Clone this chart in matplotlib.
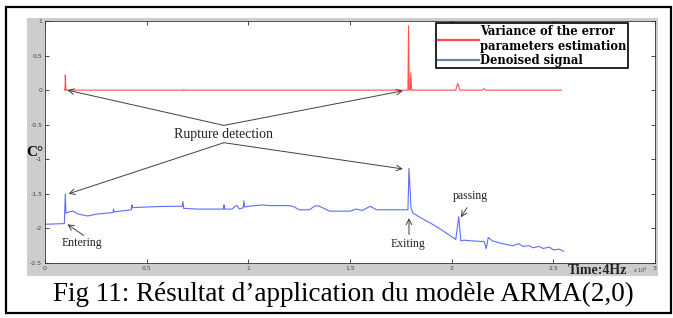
import matplotlib.pyplot as plt
from matplotlib.patches import Rectangle
from matplotlib.lines import Line2D

# variance of the error parameters estimation (x in units of 1e4 samples)
red_x = [0.095, 0.098, 0.100, 0.103, 0.106, 0.68, 0.683, 0.686, 1.785, 1.788, 1.791,
         1.796, 1.799, 1.803, 1.806, 2.02, 2.03, 2.04, 2.15, 2.16, 2.17, 2.54]
red_y = [0.0, 0.0, 0.22, 0.0, 0.0, 0.0, 0.01, 0.0, 0.0, 0.93, 0.0,
         0.0, 0.25, 0.0, 0.0, 0.0, 0.10, 0.0, 0.0, 0.02, 0.0, 0.0]

# denoised signal
blue_x = [0.0, 0.095, 0.100, 0.103, 0.12, 0.14, 0.16, 0.21, 0.26, 0.30,
          0.335, 0.337, 0.34, 0.40, 0.425, 0.428, 0.43, 0.50, 0.60, 0.675,
          0.678, 0.682, 0.75, 0.85, 0.878, 0.880, 0.883, 0.92, 0.935, 0.945,
          0.955, 0.975, 0.978, 0.982, 1.00, 1.07, 1.10, 1.20, 1.22, 1.25,
          1.30, 1.33, 1.35, 1.40, 1.50, 1.53, 1.56, 1.60, 1.63, 1.70,
          1.785, 1.790, 1.80, 1.81, 1.85, 1.90, 1.95, 2.02, 2.035, 2.045,
          2.06, 2.10, 2.16, 2.17, 2.18, 2.20, 2.25, 2.30, 2.33, 2.35,
          2.38, 2.40, 2.43, 2.45, 2.48, 2.50, 2.53, 2.55]
blue_y = [-1.94, -1.93, -1.50, -1.78, -1.76, -1.75, -1.79, -1.82, -1.79, -1.78,
          -1.77, -1.72, -1.76, -1.74, -1.73, -1.66, -1.70, -1.69, -1.68, -1.68,
          -1.61, -1.71, -1.72, -1.72, -1.72, -1.66, -1.72, -1.72, -1.68, -1.67,
          -1.72, -1.70, -1.60, -1.69, -1.68, -1.66, -1.67, -1.67, -1.68, -1.73,
          -1.73, -1.67, -1.68, -1.75, -1.75, -1.72, -1.74, -1.68, -1.73, -1.73,
          -1.73, -1.13, -1.70, -1.78, -1.85, -1.93, -2.02, -2.16, -1.83, -2.18,
          -2.17, -2.18, -2.19, -2.29, -2.13, -2.18, -2.22, -2.25, -2.22, -2.26,
          -2.25, -2.28, -2.26, -2.29, -2.27, -2.31, -2.30, -2.33]

xticks = [0, 0.5, 1, 1.5, 2, 2.5, 3]
xticklabels = ['0', '0.5', '1', '1.5', '2', '2.5', '3']
yticks = [-2.5, -2, -1.5, -1, -0.5, 0, 0.5, 1]
yticklabels = ['-2.5', '-2', '-1.5', '-1', '-0.5', '0', '0.5', '1']
legend_labels = ['Variance of the error\nparameters estimation', 'Denoised signal']

serif = 'Liberation Serif'

fig = plt.figure(figsize=(6.73, 3.18), dpi=100)
fig.patch.set_facecolor('white')

# grey matlab figure panel and outer frame
fig.patches.append(Rectangle((27 / 673, 42 / 318), 631 / 673, 258 / 318,
                             transform=fig.transFigure, facecolor='#cdcdcd',
                             edgecolor='none', zorder=-10))
fig.patches.append(Rectangle((6 / 673, 5 / 318), 665 / 673, 306 / 318,
                             transform=fig.transFigure, facecolor='none',
                             edgecolor='black', lw=1.6, zorder=10))

ax = fig.add_axes([45 / 673, 55 / 318, 610 / 673, 242 / 318])
ax.set_facecolor('white')

ax.plot(red_x, red_y, color='#ff5050', lw=0.8)
ax.plot(blue_x, blue_y, color='#5f6cff', lw=0.8)

ax.set_xlim(0, 3)
ax.set_ylim(-2.5, 1)
ax.set_xticks(xticks)
ax.set_xticklabels(xticklabels)
ax.set_yticks(yticks)
ax.set_yticklabels(yticklabels)
ax.tick_params(direction='in', length=3, width=0.5, labelsize=4.5, labelcolor='#444444',
               top=True, right=True, pad=2)
for s in ax.spines.values():
    s.set_linewidth(0.6)
    s.set_color('#333333')

handles = [Line2D([], [], color='#ff4848', lw=1.6), Line2D([], [], color='#6a86a8', lw=1.6)]
leg = ax.legend(handles, legend_labels, loc='upper left', bbox_to_anchor=(0.641, 0.99),
                fancybox=False, edgecolor='black', framealpha=1, borderpad=0.15,
                handlelength=3.6, handletextpad=0.05, labelspacing=0.05, borderaxespad=0,
                prop={'family': 'DejaVu Serif', 'weight': 'bold', 'size': 8.3})
leg.get_frame().set_linewidth(1.2)

arrow = dict(arrowstyle='->', color='#404040', lw=0.7, shrinkA=0, shrinkB=0)
ax.text(0.88, -0.635, 'Rupture detection', family=serif, fontsize=10,
        ha='center', va='center', color='#222222')
for tx, ty in [(0.11, 0.0), (1.76, -0.01)]:
    ax.annotate('', xy=(tx, ty), xytext=(0.88, -0.51), arrowprops=arrow)
for tx, ty in [(0.115, -1.5), (1.76, -1.14)]:
    ax.annotate('', xy=(tx, ty), xytext=(0.88, -0.76), arrowprops=arrow)

ax.annotate('', xy=(0.11, -1.94), xytext=(0.19, -2.1), arrowprops=arrow)
ax.text(0.18, -2.21, 'Entering', family=serif, fontsize=8.5, ha='center', va='center',
        color='#222222')
ax.annotate('', xy=(1.79, -1.85), xytext=(1.79, -2.09), arrowprops=arrow)
ax.text(1.785, -2.22, 'Exiting', family=serif, fontsize=8.5, ha='center', va='center',
        color='#222222')
ax.annotate('', xy=(2.045, -1.84), xytext=(2.075, -1.7), arrowprops=arrow)
ax.text(2.09, -1.53, 'passing', family=serif, fontsize=8.5, ha='center', va='center',
        color='#222222')

fig.text(35 / 673, 1 - 152 / 318, 'C°', family=serif, weight='bold', fontsize=11,
         ha='center', va='center')
fig.text(597 / 673, 1 - 270 / 318, 'Time:4Hz', family=serif, weight='bold', fontsize=10,
         ha='center', va='center', color='#222222')
fig.text(640 / 673, 1 - 270 / 318, r'x 10$^4$', fontsize=3.5, ha='center', va='center',
         color='#444444')

fig.text(343 / 673, 1 - 294 / 318, 'Fig 11: Résultat d’application du modèle ARMA(2,0)',
         family=serif, fontsize=19.5, ha='center', va='center')

fig.savefig('out.png', dpi=100)
